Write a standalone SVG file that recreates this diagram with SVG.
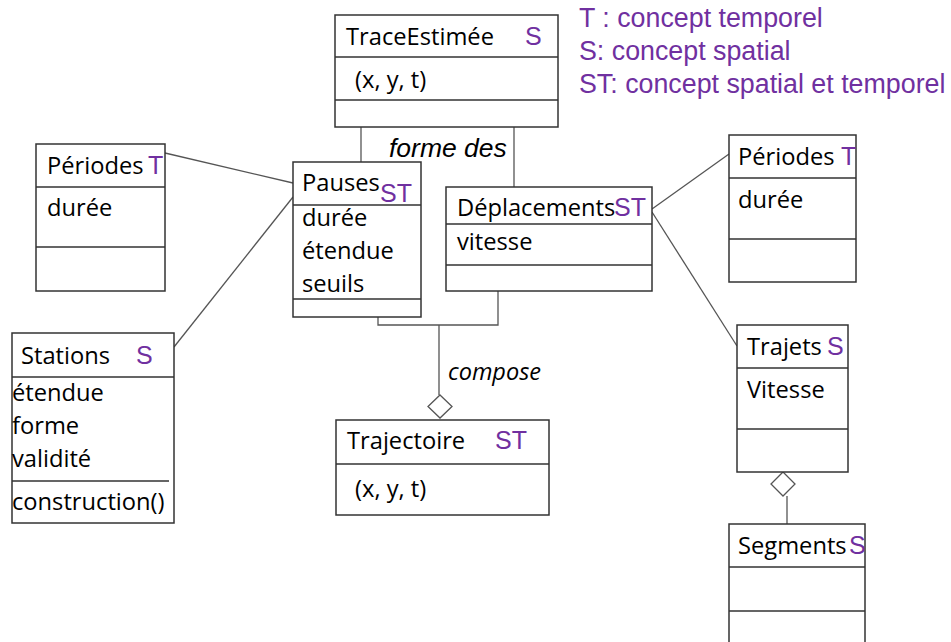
<svg xmlns="http://www.w3.org/2000/svg" width="951" height="642" viewBox="0 0 951 642">
<style>
.box{fill:#fff;stroke:#333;stroke-width:1.5}
.div{stroke:#333;stroke-width:1.5;fill:none}
.con{stroke:#555;stroke-width:1.3;fill:none}
.dia{fill:#fff;stroke:#555;stroke-width:1.3}
.t{font-family:"Open Sans","Noto Sans",sans-serif;font-size:23.7px;fill:#000}
.p{font-family:"Liberation Sans",Arial,sans-serif;font-size:25px;fill:#7030A0}
.lg{font-family:"Liberation Sans",Arial,sans-serif;font-size:26.8px;fill:#7030A0}
.it{font-family:"Liberation Sans",Arial,sans-serif;font-size:26.5px;font-style:italic;fill:#000}
.it2{font-family:"Open Sans","Noto Sans",sans-serif;font-size:23.5px;font-style:italic;fill:#000}
</style>
<rect width="951" height="642" fill="#fff"/>
<g id="connectors">
<line class="con" x1="361" y1="127" x2="361" y2="162"/>
<line class="con" x1="514" y1="127" x2="514" y2="187"/>
<line class="con" x1="165" y1="153" x2="293" y2="183"/>
<line class="con" x1="293" y1="197" x2="174" y2="347"/>
<line class="con" x1="652" y1="209" x2="729" y2="154"/>
<line class="con" x1="652" y1="212" x2="737" y2="346"/>
<path class="con" d="M378,317 V325 H498 V291 M439,325 V395"/>
<path class="dia" d="M440,395 L452,406.5 L440,418 L428,406.5 Z"/>
<path class="con" d="M787,496 V524"/>
<path class="dia" d="M783,472 L795,484 L783,496 L771,484 Z"/>
<text class="it" x="389" y="157">forme des</text>
<text class="it2" x="448" y="380">compose</text>
</g>
<g id="legend">
<text class="lg" x="579" y="27">T : concept temporel</text>
<text class="lg" x="579" y="60">S: concept spatial</text>
<text class="lg" x="579" y="93">ST: concept spatial et temporel</text>
</g>
<g id="TraceEstimee">
<rect class="box" x="335" y="15" width="223" height="112"/>
<path class="div" d="M335,57 H558 M335,100 H558"/>
<text class="t" x="346" y="45">TraceEstimée</text>
<text class="p" x="525" y="45">S</text>
<text class="t" x="355" y="88">(x, y, t)</text>
</g>
<g id="PeriodesGauche">
<rect class="box" x="36" y="144" width="129" height="147"/>
<path class="div" d="M36,187 H165 M36,247 H165"/>
<text class="t" x="47" y="174">Périodes</text>
<text class="p" x="148" y="174">T</text>
<text class="t" x="47" y="216">durée</text>
</g>
<g id="Pauses">
<rect class="box" x="293" y="162" width="128" height="155"/>
<path class="div" d="M293,205 H421 M293,299 H421"/>
<text class="t" x="302" y="191">Pauses</text>
<text class="p" x="380" y="202">ST</text>
<text class="t" x="302" y="226">durée</text>
<text class="t" x="302" y="259">étendue</text>
<text class="t" x="302" y="292">seuils</text>
</g>
<g id="Deplacements">
<rect class="box" x="446" y="187" width="206" height="104"/>
<path class="div" d="M446,224 H652 M446,265 H652"/>
<text class="t" x="457" y="216">Déplacements</text>
<text class="p" x="614" y="216">ST</text>
<text class="t" x="457" y="250">vitesse</text>
</g>
<g id="PeriodesDroite">
<rect class="box" x="729" y="135" width="127" height="147"/>
<path class="div" d="M729,178 H856 M729,239 H856"/>
<text class="t" x="738" y="165">Périodes</text>
<text class="p" x="841" y="165">T</text>
<text class="t" x="738" y="208">durée</text>
</g>
<g id="Stations">
<rect class="box" x="12" y="333" width="162" height="190"/>
<path class="div" d="M12,377 H174 M12,481 H169"/>
<text class="t" x="21" y="364">Stations</text>
<text class="p" x="136" y="364">S</text>
<text class="t" x="12" y="401">étendue</text>
<text class="t" x="12" y="434">forme</text>
<text class="t" x="12" y="467">validité</text>
<text class="t" x="12" y="510">construction()</text>
</g>
<g id="Trajectoire">
<rect class="box" x="336" y="420" width="213" height="95"/>
<path class="div" d="M336,464 H549"/>
<text class="t" x="347" y="449">Trajectoire</text>
<text class="p" x="495" y="449">ST</text>
<text class="t" x="355" y="497">(x, y, t)</text>
</g>
<g id="Trajets">
<rect class="box" x="737" y="325" width="111" height="147"/>
<path class="div" d="M737,368 H848 M737,429 H848"/>
<text class="t" x="747" y="355">Trajets</text>
<text class="p" x="827" y="355">S</text>
<text class="t" x="747" y="398">Vitesse</text>
</g>
<g id="Segments">
<path class="box" d="M729,642 V524 H865 V642"/>
<path class="div" d="M729,567 H865 M729,611 H865"/>
<text class="t" x="738" y="554">Segments</text>
<text class="p" x="849" y="554">S</text>
</g>
</svg>
